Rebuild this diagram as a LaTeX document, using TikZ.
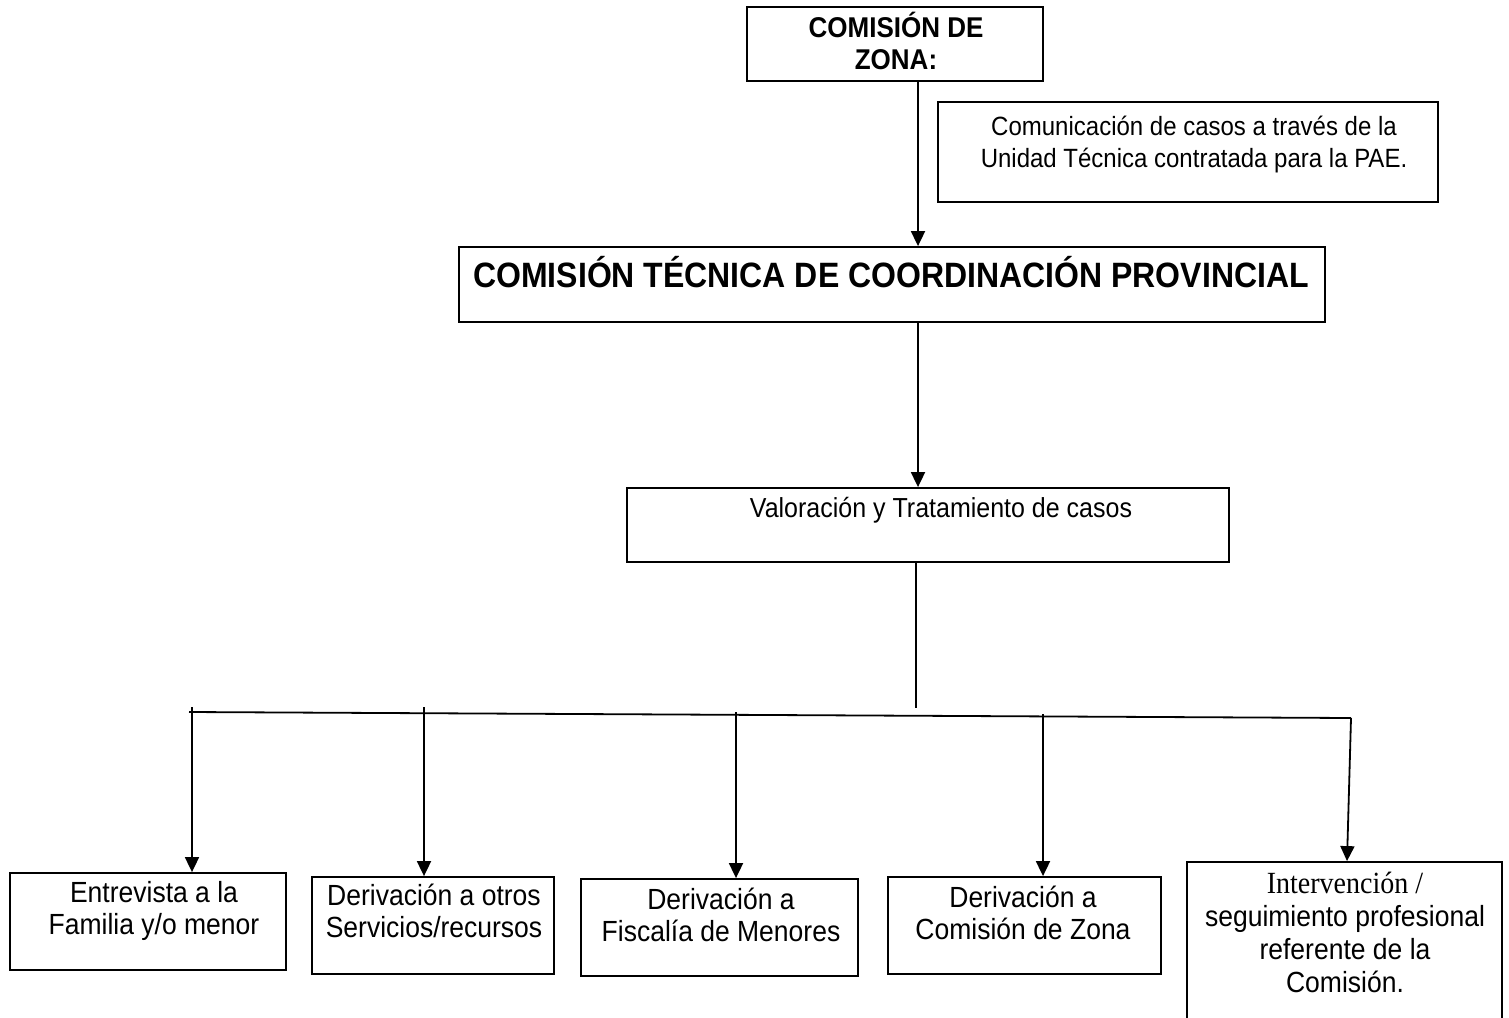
\documentclass[tikz,border=0pt]{standalone}
\usepackage{fontspec}
\usepackage{graphicx}
\setmainfont{Liberation Sans}
\newfontfamily\serifx{Liberation Serif}
\usetikzlibrary{arrows.meta}
\newcommand{\vtext}[1]{\scalebox{1}[1.1]{\begin{tabular}{@{}c@{}}#1\end{tabular}}}
\tikzset{
  box/.style={draw, line width=1.8pt, inner sep=0pt, minimum width=#1},
  txt/.style={align=center, inner sep=0pt, font=\fontsize{26.5}{29}\selectfont},
  btxt/.style={align=center, inner sep=0pt, font=\bfseries\fontsize{26}{29}\selectfont},
  arr/.style={line width=1.8pt, -{Triangle[width=14pt,length=15pt]}},
  ln/.style={line width=1.8pt}
}
\begin{document}
\begin{tikzpicture}[x=1pt,y=-1pt]
\clip (0,0) rectangle (1509,1017);
\fill[white] (0,0) rectangle (1509,1017);
% boxes
\node[box=296pt, minimum height=74pt] (czona) at (895,44) {};
\node[box=500pt, minimum height=100pt] (comm) at (1188,152) {};
\node[box=866pt, minimum height=75pt] (ctcp) at (892,284.5) {};
\node[box=602pt, minimum height=74pt] (valor) at (928,525) {};
\node[box=276pt, minimum height=97pt] (b1) at (148,921.5) {};
\node[box=242pt, minimum height=97pt] (b2) at (433,925.5) {};
\node[box=277pt, minimum height=97pt] (b3) at (719.5,927.5) {};
\node[box=273pt, minimum height=97pt] (b4) at (1024.5,925.5) {};
\node[box=315pt, minimum height=200pt] (b5) at (1344.5,962) {};
% texts
\node[btxt] (tczona) at (896,46) {\vtext{COMISIÓN DE\\ZONA:}};
\node[txt, font=\fontsize{24}{29}\selectfont] (tcomm) at (1194,145) {\vtext{Comunicación de casos a través de la\\Unidad Técnica contratada para la PAE.}};
\node[btxt, font=\bfseries\fontsize{32}{32}\selectfont] (tctcp) at (891,277) {\vtext{COMISIÓN TÉCNICA DE COORDINACIÓN PROVINCIAL}};
\node[txt, font=\fontsize{25}{29}\selectfont] (tvalor) at (941,511) {\vtext{Valoración y Tratamiento de casos}};
\node[txt] (tb1) at (154,912) {\vtext{Entrevista a la\\Familia y/o menor}};
\node[txt] (tb2) at (434,915) {\vtext{Derivación a otros\\Servicios/recursos}};
\node[txt] (tb3) at (721,919) {\vtext{Derivación a\\Fiscalía de Menores}};
\node[txt] (tb4) at (1023,917) {\vtext{Derivación a\\Comisión de Zona}};
\node[txt, font=\fontsize{26.5}{30}\selectfont] (tb5) at (1345,936) {\vtext{{\serifx\fontsize{28}{30}\selectfont Intervención /}\\seguimiento profesional\\referente de la\\Comisión.}};
% connectors
\draw[arr] (czona.south -| 918,0) -- (ctcp.north -| 918,0);
\draw[arr] (ctcp.south -| 918,0) -- (valor.north -| 918,0);
\coordinate (vEnd) at (916,708);
\draw[ln] (valor.south -| vEnd) -- (vEnd);
\coordinate (busL) at (189,712);
\coordinate (busR) at (1351,718);
\draw[ln] (busL) -- (busR);
\coordinate (d1) at (192,707);
\coordinate (d2) at (424,707);
\coordinate (d3) at (736,712);
\coordinate (d4) at (1043,714);
\coordinate (d5) at (1347,0);
\draw[arr] (d1) -- (b1.north -| d1);
\draw[arr] (d2) -- (b2.north -| d2);
\draw[arr] (d3) -- (b3.north -| d3);
\draw[arr] (d4) -- (b4.north -| d4);
\draw[arr] (busR) -- (b5.north -| d5);
\end{tikzpicture}
\end{document}
